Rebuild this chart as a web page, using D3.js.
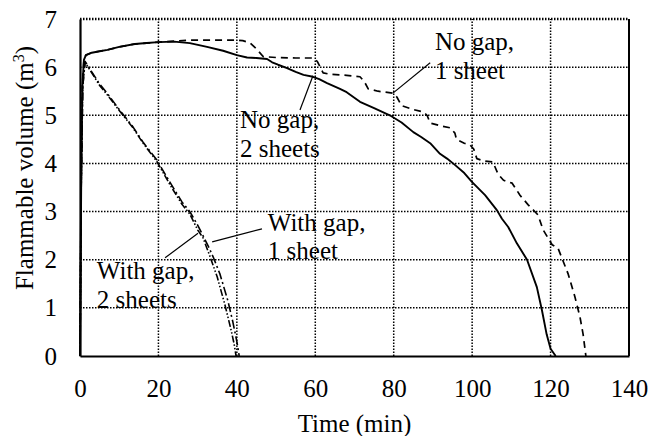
<!DOCTYPE html>
<html>
<head>
<meta charset="utf-8">
<script src="https://cdn.jsdelivr.net/npm/d3@7"></script>
</head>
<body style="margin:0">
<svg id="chart" width="651" height="436"></svg>
<script>
// Flammable volume over time for four lining configurations
const xTicks = [0, 20, 40, 60, 80, 100, 120, 140];
const yTicks = [0, 1, 2, 3, 4, 5, 6, 7];

const noGap2Time = [0, 0.3, 0.6, 1.0, 1.5, 3, 5, 7, 10, 14, 17, 20, 24, 28, 32.4, 36.5, 40, 42.6, 45, 47.7, 49, 50.5, 52.8, 55, 57, 59.4, 61, 63, 66.3, 68, 71.4, 75, 79, 82, 85, 87, 89.3, 91.8, 93.6, 95.6, 98, 100, 103.3, 106.3, 107.6, 109.2, 111.4, 114, 116.5, 117.8, 119, 120, 121.3];
const noGap2Vol  = [0, 3.5, 5.6, 6.15, 6.25, 6.3, 6.33, 6.36, 6.42, 6.48, 6.5, 6.52, 6.53, 6.5, 6.42, 6.34, 6.25, 6.2, 6.19, 6.17, 6.1, 6.05, 5.98, 5.9, 5.84, 5.8, 5.75, 5.67, 5.55, 5.48, 5.28, 5.15, 5.0, 4.85, 4.65, 4.55, 4.42, 4.2, 4.1, 3.97, 3.8, 3.61, 3.34, 3.03, 2.85, 2.68, 2.34, 2.0, 1.43, 0.95, 0.45, 0.15, 0];

const noGap1Time = [0, 0.3, 0.6, 1.0, 1.5, 3, 5, 7, 10, 14, 17, 20, 24, 28, 32, 36, 40, 41.5, 43.4, 45, 46.7, 50, 55, 59.4, 60.5, 62, 64, 68, 71.4, 72.5, 73.5, 76, 79.8, 80.8, 82, 85, 87.5, 88.5, 89.3, 92, 94.4, 95.6, 96, 98, 99.5, 100.4, 101.2, 103, 105.3, 106.6, 108, 110.2, 112.2, 114.3, 116.8, 118.1, 120.4, 121.9, 124.5, 126.2, 127.5, 128.3, 129];
const noGap1Vol  = [0, 3.5, 5.6, 6.15, 6.25, 6.3, 6.33, 6.36, 6.42, 6.48, 6.5, 6.52, 6.54, 6.56, 6.56, 6.56, 6.56, 6.55, 6.5, 6.38, 6.22, 6.2, 6.19, 6.19, 6.12, 5.88, 5.85, 5.83, 5.8, 5.7, 5.55, 5.5, 5.46, 5.38, 5.2, 5.12, 5.07, 5.0, 4.84, 4.78, 4.74, 4.63, 4.5, 4.42, 4.38, 4.3, 4.1, 4.05, 4.03, 3.78, 3.65, 3.59, 3.34, 3.14, 2.93, 2.62, 2.31, 2.24, 1.7, 1.23, 0.81, 0.45, 0];

const gap1Time = [0, 0.3, 0.7, 1.3, 3, 5, 7, 10, 13.5, 16, 19.6, 23, 26, 28, 30, 32.6, 34, 35.7, 37.7, 39, 40, 40.6];
const gap1Vol  = [0, 3.5, 5.6, 6.12, 5.9, 5.65, 5.45, 5.12, 4.76, 4.45, 4.07, 3.6, 3.2, 3.0, 2.72, 2.3, 2.05, 1.7, 1.15, 0.7, 0.3, 0];

const gap2Time = [0, 0.3, 0.7, 1.3, 3, 5, 7, 10, 13.5, 16, 19.6, 23, 26, 28, 30, 31.4, 33, 35, 37, 38.5, 39.3, 39.8];
const gap2Vol  = [0, 3.5, 5.6, 6.1, 5.88, 5.62, 5.42, 5.1, 4.74, 4.43, 4.04, 3.55, 3.15, 2.95, 2.62, 2.45, 2.1, 1.64, 1.05, 0.55, 0.25, 0];

const seriesNames = ["No gap, 1 sheet", "No gap, 2 sheets", "With gap, 1 sheet", "With gap, 2 sheets"];

const svg = d3.select("#chart");
const x = d3.scaleLinear().domain([0, 140]).range([80, 629]);
const y = d3.scaleLinear().domain([0, 7]).range([356, 19]);

const FS = 25;       // axis text
const FS_NOTE = 25;  // series labels
const FONT = "Liberation Serif";

// dotted grid
const grid = svg.append("g");
grid.selectAll("line.v").data(xTicks.filter(d => d > 0 && d < 140)).join("line")
  .attr("x1", d => x(d)).attr("x2", d => x(d))
  .attr("y1", y(0)).attr("y2", y(7))
  .attr("stroke", "#000").attr("stroke-width", 1.5).attr("stroke-dasharray", "1.5,1.5");
grid.selectAll("line.h").data(yTicks.filter(d => d > 0)).join("line")
  .attr("x1", x(0)).attr("x2", x(140))
  .attr("y1", d => y(d)).attr("y2", d => y(d))
  .attr("stroke", "#000").attr("stroke-width", d => d === 7 ? 2.5 : 1.5)
  .attr("stroke-dasharray", "1.5,1.5");

// right border
svg.append("line")
  .attr("x1", x(140)).attr("x2", x(140)).attr("y1", y(0)).attr("y2", y(7))
  .attr("stroke", "#000").attr("stroke-width", 2);

// axes
const gx = svg.append("g").attr("transform", `translate(0,${y(0)})`)
  .call(d3.axisBottom(x).tickValues(xTicks).tickFormat(d3.format("d")).tickSize(0).tickPadding(41));
const gy = svg.append("g").attr("transform", `translate(${x(0)},0)`)
  .call(d3.axisLeft(y).tickValues(yTicks).tickFormat(d3.format("d")).tickSize(0).tickPadding(23));
gx.select(".domain").attr("stroke", "#000").attr("stroke-width", 2.2);
gy.select(".domain").attr("stroke", "#000").attr("stroke-width", 2.2);
gx.selectAll("text").attr("font-family", FONT).attr("font-size", FS).attr("dy", 0);
gy.selectAll("text").attr("font-family", FONT).attr("font-size", FS);

// axis titles
svg.append("text")
  .attr("x", (x(0) + x(140)) / 2).attr("y", 432)
  .attr("text-anchor", "middle")
  .attr("font-family", FONT).attr("font-size", FS)
  .text("Time (min)");

const yt = svg.append("text")
  .attr("transform", "translate(33,168) rotate(-90)")
  .attr("text-anchor", "middle")
  .attr("font-family", FONT).attr("font-size", FS);
yt.append("tspan").text("Flammable volume (m");
yt.append("tspan").attr("font-size", 16).attr("dy", -9).text("3");
yt.append("tspan").attr("dy", 9).text(")");

// data lines
const lineGen = d3.line().x(d => x(d[0])).y(d => y(d[1]));
const series = [
  { t: noGap1Time, v: noGap1Vol, dash: "7,5", width: 1.7 },
  { t: noGap2Time, v: noGap2Vol, dash: null, width: 1.9 },
  { t: gap1Time, v: gap1Vol, dash: "9,3,2,3", width: 1.6 },
  { t: gap2Time, v: gap2Vol, dash: "7,2,1.5,2,1.5,2", width: 1.6 }
];
svg.append("g").selectAll("path").data(series).join("path")
  .attr("d", s => lineGen(s.t.map((t, i) => [t, s.v[i]])))
  .attr("fill", "none").attr("stroke", "#000")
  .attr("stroke-width", s => s.width)
  .attr("stroke-dasharray", s => s.dash)
  .attr("stroke-linejoin", "round");

// labels with leader lines (data units)
const notes = [
  { label: seriesNames[1], tx: 40.8, ty: 4.74, gap: 29, from: [56.1, 5.11], to: [59.4, 5.82] },
  { label: seriesNames[0], tx: 90.5, ty: 6.36, gap: 29, from: [89.3, 6.09], to: [79.8, 5.46] },
  { label: seriesNames[2], tx: 47.9, ty: 2.6, gap: 28, from: [46.4, 2.64], to: [33.7, 2.37] },
  { label: seriesNames[3], tx: 4.3, ty: 1.60, gap: 29, from: [21.7, 2.04], to: [30.1, 2.55] }
];
notes.forEach(n => {
  svg.append("line")
    .attr("x1", x(n.from[0])).attr("y1", y(n.from[1]))
    .attr("x2", x(n.to[0])).attr("y2", y(n.to[1]))
    .attr("stroke", "#000").attr("stroke-width", 1.2);
  const parts = n.label.split(", ");
  svg.append("text").attr("font-family", FONT).attr("font-size", FS_NOTE)
    .attr("x", x(n.tx)).attr("y", y(n.ty)).text(parts[0] + ",");
  svg.append("text").attr("font-family", FONT).attr("font-size", FS_NOTE)
    .attr("x", x(n.tx)).attr("y", y(n.ty) + n.gap).text(parts[1]);
});
</script>
</body>
</html>
